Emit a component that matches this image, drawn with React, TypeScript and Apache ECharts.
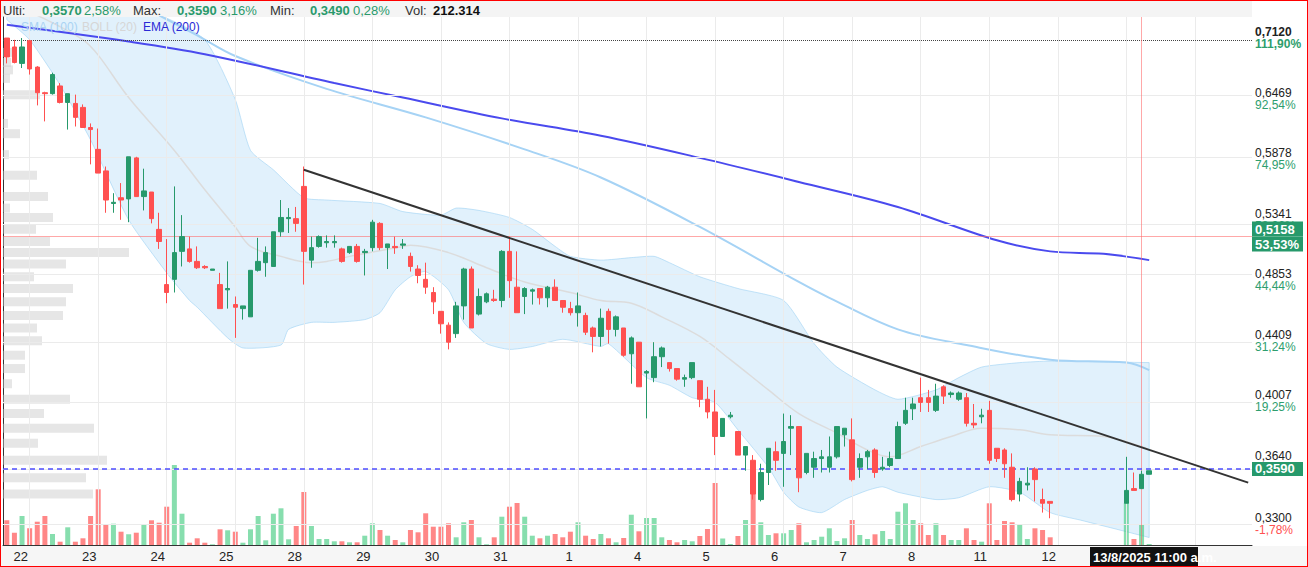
import React, { useEffect, useRef } from 'react';
import * as echarts from 'echarts';

const FONT = 'Liberation Sans, Arial, sans-serif';
const GREEN = '#26996b';
const RED = '#ff5050';

const dayNames = ['21', '22', '23', '24', '25', '28', '29', '30', '31', '1', '4', '5', '6', '7', '8', '11', '12', '13', '14', '15'];
const hourNames = ['9:00', '10:00', '11:00', '12:00', '13:00', '14:00', '15:00', '16:00', '17:00'];
const slotCount = 164;
const lastLabelledDay = 16; // days after this are hidden behind the crosshair date box

// [open, close, low, high] per hourly slot
const candles: ([number, number, number, number] | null)[] = [
  [0.712, 0.691, 0.684, 0.712], [0.702, 0.685, 0.684, 0.710], [0.684, 0.702, 0.679, 0.712],
  [0.709, 0.678, 0.672, 0.710], [0.680, 0.653, 0.640, 0.681], [0.653, 0.652, 0.624, 0.654],
  [0.652, 0.672, 0.651, 0.674], [0.660, 0.643, 0.642, 0.663], [0.643, 0.652, 0.616, 0.652],
  [0.642, 0.628, 0.619, 0.651], [0.638, 0.618, 0.618, 0.641], [0.618, 0.616, 0.583, 0.622],
  [0.597, 0.575, 0.575, 0.617], [0.577, 0.551, 0.540, 0.581], [0.548, 0.549, 0.540, 0.557],
  [0.553, 0.551, 0.534, 0.566], [0.552, 0.590, 0.532, 0.590], [0.589, 0.554, 0.554, 0.590],
  [0.554, 0.559, 0.542, 0.579], [0.558, 0.535, 0.531, 0.558], [0.526, 0.516, 0.510, 0.540],
  [0.482, 0.476, 0.468, 0.518], [0.486, 0.507, 0.476, 0.563], [0.508, 0.520, 0.496, 0.538],
  [0.510, 0.500, 0.499, 0.520], [0.500, 0.495, 0.494, 0.512], [0.496, 0.495, 0.494, 0.497],
  [0.493, 0.494, 0.493, 0.494], [0.482, 0.464, 0.464, 0.491], [0.478, 0.479, 0.464, 0.500],
  [0.467, 0.465, 0.443, 0.473], [0.464, 0.466, 0.456, 0.466], [0.458, 0.493, 0.458, 0.493],
  [0.493, 0.500, 0.492, 0.519], [0.499, 0.507, 0.488, 0.512], [0.496, 0.524, 0.496, 0.524],
  [0.524, 0.536, 0.520, 0.551], [0.535, 0.536, 0.523, 0.544], [0.535, 0.531, 0.524, 0.545],
  [0.563, 0.508, 0.482, 0.581], [0.501, 0.511, 0.495, 0.520], [0.512, 0.520, 0.511, 0.521],
  [0.515, 0.516, 0.511, 0.521], [0.515, 0.516, 0.511, 0.521], [0.510, 0.500, 0.499, 0.511],
  [0.507, 0.512, 0.506, 0.512], [0.512, 0.500, 0.499, 0.514], [0.507, 0.508, 0.489, 0.510],
  [0.511, 0.532, 0.508, 0.534], [0.531, 0.511, 0.509, 0.532], [0.511, 0.514, 0.494, 0.514],
  [0.512, 0.511, 0.506, 0.520], [0.513, 0.514, 0.510, 0.518], [0.504, 0.496, 0.492, 0.507],
  [0.494, 0.489, 0.483, 0.497], [0.486, 0.480, 0.475, 0.499], [0.476, 0.469, 0.460, 0.480],
  [0.462, 0.453, 0.446, 0.462], [0.452, 0.440, 0.435, 0.454], [0.446, 0.466, 0.443, 0.469],
  [0.466, 0.494, 0.456, 0.495], [0.494, 0.450, 0.450, 0.496], [0.460, 0.473, 0.459, 0.479],
  [0.469, 0.475, 0.468, 0.476], [0.471, 0.470, 0.469, 0.478], [0.470, 0.508, 0.465, 0.509],
  [0.508, 0.485, 0.472, 0.520], [0.480, 0.461, 0.461, 0.508], [0.473, 0.479, 0.460, 0.480],
  [0.477, 0.478, 0.467, 0.479], [0.479, 0.472, 0.467, 0.479], [0.472, 0.480, 0.465, 0.481],
  [0.480, 0.470, 0.470, 0.486], [0.470, 0.465, 0.461, 0.470], [0.464, 0.461, 0.459, 0.469],
  [0.461, 0.466, 0.451, 0.476], [0.459, 0.447, 0.445, 0.461], [0.450, 0.444, 0.433, 0.451],
  [0.444, 0.457, 0.437, 0.464], [0.462, 0.449, 0.439, 0.464], [0.449, 0.458, 0.444, 0.459],
  [0.450, 0.431, 0.430, 0.450], [0.432, 0.443, 0.412, 0.444], [0.440, 0.410, 0.410, 0.440],
  [0.419, 0.420, 0.390, 0.421], [0.416, 0.430, 0.413, 0.440], [0.430, 0.436, 0.423, 0.437],
  [0.426, 0.422, 0.420, 0.426], [0.422, 0.415, 0.414, 0.422], [0.415, 0.416, 0.410, 0.418],
  [0.416, 0.426, 0.415, 0.426], [0.414, 0.402, 0.397, 0.414], [0.402, 0.394, 0.390, 0.410],
  [0.394, 0.379, 0.368, 0.408], [0.379, 0.390, 0.379, 0.390], [0.391, 0.392, 0.390, 0.394],
  [0.382, 0.368, 0.368, 0.382], [0.368, 0.373, 0.359, 0.373], [0.365, 0.346, 0.343, 0.368],
  [0.343, 0.358, 0.342, 0.363], [0.358, 0.372, 0.351, 0.372], [0.370, 0.365, 0.359, 0.376],
  [0.369, 0.376, 0.350, 0.393], [0.384, 0.385, 0.368, 0.392], [0.385, 0.355, 0.347, 0.385],
  [0.358, 0.369, 0.357, 0.369], [0.361, 0.366, 0.355, 0.370], [0.366, 0.367, 0.358, 0.371],
  [0.361, 0.367, 0.358, 0.379], [0.367, 0.385, 0.366, 0.385], [0.380, 0.384, 0.373, 0.384],
  [0.377, 0.354, 0.353, 0.390], [0.361, 0.366, 0.355, 0.369], [0.367, 0.370, 0.360, 0.371],
  [0.371, 0.358, 0.355, 0.372], [0.360, 0.361, 0.359, 0.367], [0.362, 0.366, 0.361, 0.370],
  [0.366, 0.385, 0.366, 0.388], [0.387, 0.395, 0.386, 0.403], [0.396, 0.399, 0.389, 0.403],
  [0.403, 0.400, 0.394, 0.416], [0.403, 0.400, 0.394, 0.408], [0.395, 0.404, 0.394, 0.412],
  [0.410, 0.404, 0.399, 0.411], [0.405, 0.406, 0.403, 0.407], [0.402, 0.406, 0.401, 0.407],
  [0.403, 0.387, 0.385, 0.406], [0.387, 0.386, 0.384, 0.399], [0.391, 0.392, 0.387, 0.396],
  [0.395, 0.365, 0.363, 0.401], [0.372, 0.366, 0.364, 0.372], [0.371, 0.363, 0.355, 0.372],
  [0.361, 0.343, 0.342, 0.369], [0.346, 0.353, 0.342, 0.355], [0.351, 0.352, 0.348, 0.361],
  [0.360, 0.354, 0.342, 0.361], [0.343, 0.341, 0.336, 0.349], [0.342, 0.341, 0.333, 0.342],
  null, null, null, null, null, null, null, null, null,
  [0.341, 0.348, 0.341, 0.367], [0.349, 0.348, 0.348, 0.358], [0.349, 0.357, 0.349, 0.359],
  [0.357, 0.359, 0.357, 0.359],
];

// volume per slot (thousands)
const volumes: (number | null)[] = [
  24.7, 12.3, 29, 16.7, 23.3, 29, 11, 3.3, 17.7,
  3.3, 6.7, 29, 55.7, 20, 21.3, 13.3, 10.7, 12.3,
  20, 24.7, 22.3, 38.3, 80, 31.3, 2.3, 6.7, 2.3,
  0.7, 15.7, 14.7, 13.3, 2.3, 15.7, 29, 4.7, 31.3,
  36.7, 5.7, 19, 53, 19, 6, 6, 3.7, 3.7,
  2.7, 2.7, 9.3, 21.7, 15, 9.3, 5, 2.7, 15,
  12.7, 31.7, 18.3, 18.3, 21.7, 7.7, 22.7, 25, 7.7,
  0.7, 7.7, 28.3, 38.3, 42, 28.3, 9.3, 6.7, 9.3,
  11, 7.7, 13.3, 22.7, 9.3, 6, 11, 6.7, 2.7,
  7, 30.3, 13.7, 27, 27, 7.7, 5, 2.7, 5,
  3.7, 9, 16, 62, 6.5, 1, 9, 25, 60.7,
  22.7, 10, 11.7, 11.7, 15, 21.7, 2.7, 5, 8.3,
  16.7, 4, 6.7, 25, 10, 6, 10.7, 14, 6,
  33.3, 41.7, 25, 21.7, 10, 21.7, 10, 5, 5,
  16.7, 5, 3.3, 41.7, 5, 24, 22.7, 20, 6,
  16.7, 15, 7.7, null, null, null, null, null, null,
  null, null, null, 42, 6, 20, 1,
];

// indicator lines: [slot, price]
const emaPoints: [number, number][] = [
  [0, 0.727], [16, 0.708], [26, 0.694], [43, 0.663], [52, 0.648], [65, 0.627], [78, 0.610],
  [91, 0.589], [104, 0.567], [117, 0.545], [130, 0.517], [137, 0.508], [144, 0.506], [150, 0.501],
];
const smaPoints: [number, number][] = [
  [20, 0.738], [25, 0.715], [30, 0.692], [42, 0.657], [55, 0.628], [68, 0.597], [78, 0.571],
  [91, 0.528], [104, 0.484], [108, 0.472], [117, 0.449], [126, 0.438], [137, 0.428], [147, 0.426], [150, 0.421],
];
const bollUpper: [number, number][] = [
  [0, 0.744], [13, 0.744], [20, 0.738], [26, 0.710], [30, 0.646], [32, 0.596], [35, 0.578], [39, 0.553],
  [42, 0.551], [49, 0.548], [52, 0.541], [57, 0.538], [59, 0.544], [62, 0.542], [66, 0.536], [69, 0.526],
  [72, 0.512], [74, 0.504], [78, 0.501], [82, 0.503], [85, 0.504], [87, 0.499], [91, 0.488], [96, 0.479],
  [102, 0.470], [106, 0.439], [109, 0.423], [114, 0.408], [117, 0.402], [122, 0.408], [125, 0.416],
  [128, 0.423], [133, 0.426], [137, 0.427], [150, 0.426],
];
const bollLower: [number, number][] = [
  [0, 0.733], [3, 0.710], [7, 0.661], [11, 0.606], [16, 0.534], [21, 0.491], [24, 0.470], [25, 0.465],
  [29, 0.443], [31, 0.436], [36, 0.438], [37, 0.449], [40, 0.454], [43, 0.454], [47, 0.456], [49, 0.461],
  [51, 0.478], [53, 0.488], [55, 0.492], [58, 0.478], [60, 0.454], [63, 0.439], [66, 0.435], [69, 0.437],
  [73, 0.442], [78, 0.437], [79, 0.439], [84, 0.416], [87, 0.411], [90, 0.403], [93, 0.400], [96, 0.383],
  [100, 0.361], [102, 0.347], [104, 0.339], [107, 0.336], [110, 0.343], [113, 0.348], [115, 0.350],
  [117, 0.347], [122, 0.343], [125, 0.344], [129, 0.350], [133, 0.347], [137, 0.336], [141, 0.332],
  [147, 0.326], [150, 0.323],
];
const bollMid: [number, number][] = [
  [4, 0.738], [10, 0.710], [12, 0.693], [16, 0.648], [22, 0.596], [26, 0.560], [30, 0.528], [32, 0.512],
  [36, 0.504], [40, 0.499], [42, 0.500], [45, 0.504], [52, 0.512], [53, 0.513], [58, 0.507], [63, 0.495],
  [68, 0.484], [74, 0.476], [78, 0.470], [82, 0.468], [86, 0.458], [91, 0.444], [95, 0.428], [100, 0.408],
  [104, 0.393], [109, 0.381], [113, 0.371], [116, 0.367], [120, 0.373], [124, 0.379], [128, 0.384],
  [133, 0.383], [137, 0.380], [144, 0.379], [149, 0.373], [150, 0.371],
];

// volume-at-price profile
const profilePrices = [
  0.696, 0.685, 0.677, 0.668, 0.651, 0.622, 0.612, 0.592, 0.573, 0.554, 0.544, 0.536, 0.526, 0.516,
  0.507, 0.498, 0.488, 0.479, 0.469, 0.459, 0.450, 0.441, 0.431, 0.422, 0.412, 0.402, 0.393, 0.384,
  0.375, 0.365, 0.355, 0.346,
];
const profileVolumes = [
  10, 8, 10, 7, 37, 5, 17, 6, 34, 45, 7, 50, 33, 47,
  126, 63, 31, 70, 63, 60, 34, 39, 22, 22, 9, 67, 41, 91,
  35, 104, 83, 90,
];

const trendLine: [number, number][] = [[39, 0.578], [163, 0.3523]];

const yTicks = [0.7120, 0.6469, 0.5878, 0.5341, 0.4853, 0.4409, 0.4007, 0.3640, 0.3300];
const yTickPct = ['111,90%', '92,54%', '74,95%', '58,96%', '44,44%', '31,24%', '19,25%', '', '-1,78%'];
const maxPrice = 0.712;
const lastPrice = 0.359;
const crossPrice = 0.5158;
const crossPct = '53,53%';
const crossSlot = 149;
const crossLabel = '13/8/2025 11:00 a.m.';
const priceMin = 0.3192;
const priceMax = 0.7361;

const header = [
  { t: 'Ulti:', x: 3, c: '#333', b: false },
  { t: '0,3570', x: 42, c: '#2a9a6c', b: true },
  { t: '2,58%', x: 84, c: '#2a9a6c', b: false },
  { t: 'Max:', x: 133, c: '#333', b: false },
  { t: '0,3590', x: 177, c: '#2a9a6c', b: true },
  { t: '3,16%', x: 220, c: '#2a9a6c', b: false },
  { t: 'Min:', x: 270, c: '#333', b: false },
  { t: '0,3490', x: 310, c: '#2a9a6c', b: true },
  { t: '0,28%', x: 353, c: '#2a9a6c', b: false },
  { t: 'Vol:', x: 405, c: '#333', b: false },
  { t: '212.314', x: 433, c: '#111', b: true },
];
const legend = [
  { t: 'SMA (100)', x: 21, c: '#a9d3f3' },
  { t: 'BOLL (20)', x: 82, c: '#d6d6d6' },
  { t: 'EMA (200)', x: 143, c: '#2a2ad6' },
];

const fmt = (v: number) => v.toFixed(4).replace('.', ',');

export default function App() {
  const ref = useRef<HTMLDivElement>(null);
  useEffect(() => {
    document.body.style.margin = '0';
    const chart = echarts.init(ref.current!, null, { renderer: 'svg' });
    const categories = Array.from({ length: slotCount }, (_, i) => {
      const k = i + 6;
      return dayNames[Math.floor(k / 9)] + ' ' + hourNames[k % 9];
    });
    const dayStarts = categories.map((_, i) => i).filter((i) => (i + 6) % 9 === 0);
    const candleData = candles.map((c) => (c ? c : ['-', '-', '-', '-']));
    const volData = volumes.map((v, i) => {
      const c = candles[i];
      if (v == null || !c) return '-';
      return { value: v, itemStyle: { color: c[1] >= c[0] ? 'rgba(70,205,130,0.65)' : 'rgba(255,70,70,0.65)' } };
    });
    const lineBase = { type: 'line', smooth: 0.35, showSymbol: false, silent: true, clip: true, xAxisIndex: 0, yAxisIndex: 0 };
    const tickText = (extra: object) => ({ fontSize: 12, lineHeight: 12, fontFamily: FONT, ...extra });

    chart.setOption({
      animation: false,
      textStyle: { fontFamily: FONT },
      grid: [
        { left: 3, right: 56, top: 17, height: 528 },
        { left: 3, right: 56, top: 445, height: 100 },
      ],
      xAxis: [
        {
          type: 'category', gridIndex: 0, data: categories, boundaryGap: true,
          axisLine: { show: true, lineStyle: { color: '#333', width: 1 } },
          axisTick: { show: false },
          splitLine: { show: false },
          axisLabel: {
            interval: (i: number) => (i + 6) % 9 === 0 && Math.floor((i + 6) / 9) <= lastLabelledDay,
            formatter: (v: string) => v.split(' ')[0],
            color: '#222', fontSize: 13, margin: 5, padding: [0, 18, 0, 0], fontFamily: FONT,
          },
        },
        { type: 'category', gridIndex: 1, data: categories, show: false },
        { type: 'value', gridIndex: 0, min: 0, max: 1249, show: false },
      ],
      yAxis: [
        {
          type: 'log', gridIndex: 0, position: 'right', min: priceMin, max: priceMax,
          axisLine: { show: true, lineStyle: { color: '#333', width: 1 } },
          axisTick: { show: false },
          splitLine: { show: false },
          axisLabel: {
            customValues: yTicks,
            margin: 3,
            formatter: (val: number) => {
              const idx = yTicks.findIndex((t) => Math.abs(t - val) < 1e-4);
              const pct = idx >= 0 ? yTickPct[idx] : '';
              const bold = idx === 0;
              const neg = pct.startsWith('-');
              const first = `{${bold ? 'pb' : 'p'}|${fmt(val)}}`;
              if (!pct) return first + '\n{p| }';
              return `${first}\n{${neg ? 'r' : bold ? 'gb' : 'g'}|${pct}}`;
            },
            rich: {
              p: tickText({ color: '#222' }),
              pb: tickText({ color: '#222', fontWeight: 'bold' }),
              g: tickText({ color: '#2e9e6e' }),
              gb: tickText({ color: '#2e9e6e', fontWeight: 'bold' }),
              r: tickText({ color: '#ff5050' }),
            },
          },
        },
        { type: 'value', gridIndex: 1, min: 0, max: 100, show: false },
      ],
      series: [
        {
          type: 'line', data: [], xAxisIndex: 0, yAxisIndex: 0, silent: true, z: 0,
          markLine: {
            silent: true, symbol: ['none', 'none'], label: { show: false },
            lineStyle: { color: '#ebebeb', width: 1, type: 'solid' },
            data: [
              ...yTicks.slice(1).map((v) => ({ yAxis: v })),
              ...dayStarts.map((i) => ({ xAxis: i })),
            ],
          },
        },
        {
          type: 'custom', xAxisIndex: 0, yAxisIndex: 0, z: 1, silent: true, clip: true,
          data: [[0, 0.5]],
          renderItem: (_p: any, api: any) => {
            const up = bollUpper.map(([i, v]) => api.coord([i, v]));
            const lo = bollLower.map(([i, v]) => api.coord([i, v])).reverse();
            // doubled end points keep the smoothed outline from bulging at the two ends
            const pts = [up[0], ...up, up[up.length - 1], lo[0], ...lo, lo[lo.length - 1]];
            return {
              type: 'polygon',
              shape: { points: pts, smooth: 0.2 },
              style: { fill: 'rgba(173,216,247,0.36)', stroke: 'rgba(150,205,242,0.55)', lineWidth: 1 },
            };
          },
        },
        {
          type: 'custom', xAxisIndex: 2, yAxisIndex: 0, z: 2, silent: true, clip: true,
          data: profilePrices.map((p, i) => [profileVolumes[i], p]),
          renderItem: (_p: any, api: any) => {
            const end = api.coord([api.value(0), api.value(1)]);
            const start = api.coord([0, api.value(1)]);
            return {
              type: 'rect',
              shape: { x: start[0] - 2, y: end[1] - 4.5, width: end[0] - start[0] + 2, height: 9 },
              style: { fill: 'rgba(200,200,200,0.45)' },
            };
          },
        },
        { ...lineBase, data: bollMid, z: 3, lineStyle: { color: '#dcdcdc', width: 1.5 } },
        { ...lineBase, data: smaPoints, z: 3, lineStyle: { color: '#a6d3f5', width: 2 } },
        { ...lineBase, data: emaPoints, z: 3, lineStyle: { color: '#4a4aee', width: 2 } },
        {
          type: 'bar', xAxisIndex: 1, yAxisIndex: 1, data: volData, barWidth: 5, z: 4, silent: true,
        },
        {
          type: 'candlestick', xAxisIndex: 0, yAxisIndex: 0, data: candleData, barWidth: 5, z: 5, silent: true,
          itemStyle: { color: GREEN, color0: RED, borderColor: GREEN, borderColor0: RED, borderWidth: 1 },
        },
        {
          type: 'line', data: trendLine, xAxisIndex: 0, yAxisIndex: 0, z: 6, silent: true, showSymbol: false,
          lineStyle: { color: '#333', width: 2 },
        },
        {
          type: 'line', data: [], xAxisIndex: 0, yAxisIndex: 0, z: 7, silent: true,
          markLine: {
            silent: true, symbol: ['none', 'none'], label: { show: false },
            data: [
              { yAxis: maxPrice, lineStyle: { type: 'dotted', color: '#444', width: 1 } },
              { xAxis: crossSlot, lineStyle: { type: 'solid', color: 'rgba(255,110,110,0.6)', width: 1 } },
              {
                yAxis: crossPrice,
                lineStyle: { type: 'solid', color: 'rgba(255,110,110,0.6)', width: 1 },
                label: {
                  show: true, position: 'end', distance: 0,
                  formatter: `{a|${fmt(crossPrice)}}\n{a|${crossPct}}`,
                  rich: {
                    a: {
                      backgroundColor: '#26996b', color: '#fff', fontWeight: 'bold', fontSize: 13,
                      fontFamily: FONT, width: 44, padding: [1, 4, 1, 3], lineHeight: 15,
                    },
                  },
                },
              },
              {
                yAxis: lastPrice,
                lineStyle: { type: [5, 4], color: '#4d4dff', width: 1.5 },
                label: {
                  show: true, position: 'end', distance: 0, formatter: fmt(lastPrice),
                  backgroundColor: '#26996b', color: '#fff', fontWeight: 'bold', fontSize: 13,
                  fontFamily: FONT, width: 44, padding: [1, 4, 0, 3], lineHeight: 13,
                },
              },
            ],
          },
        },
      ],
      graphic: [
        { type: 'rect', z: -1, shape: { x: 0, y: 0, width: 1252, height: 17 }, style: { fill: '#f4f4f4' } },
        { type: 'rect', z: -1, shape: { x: 0, y: 546, width: 1308, height: 21 }, style: { fill: '#f6f6f6' } },
        ...header.map((h) => ({
          type: 'text', z: 100, x: h.x, y: 10,
          style: { text: h.t, fill: h.c, fontSize: 13, fontWeight: h.b ? 'bold' : 'normal', fontFamily: FONT, verticalAlign: 'middle' },
        })),
        ...legend.map((l) => ({
          type: 'text', z: 100, x: l.x, y: 27,
          style: { text: l.t, fill: l.c, fontSize: 12, fontFamily: FONT, verticalAlign: 'middle' },
        })),
        { type: 'rect', z: 100, shape: { x: 1090, y: 547, width: 108, height: 19 }, style: { fill: '#111' } },
        {
          type: 'text', z: 101, x: 1093, y: 557,
          style: { text: crossLabel, fill: '#fff', fontSize: 13, fontWeight: 'bold', fontFamily: FONT, verticalAlign: 'middle' },
        },
      ],
    });
    return () => chart.dispose();
  }, []);
  return (
    <>
      <div ref={ref} style={{ position: 'fixed', left: 0, top: 0, width: 1308, height: 567, background: '#fff' }} />
      <div style={{ position: 'fixed', left: 0, top: 0, width: 1308, height: 567, border: '1px solid #ff0000', boxSizing: 'border-box', pointerEvents: 'none' }} />
    </>
  );
}
